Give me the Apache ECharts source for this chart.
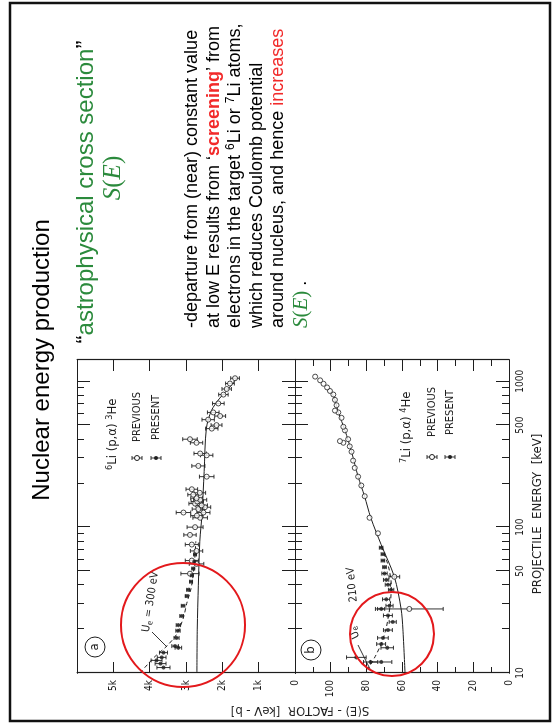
<!DOCTYPE html>
<html>
<head>
<meta charset="utf-8">
<script src="https://cdn.jsdelivr.net/npm/echarts@6/dist/echarts.min.js"></script>
<style>
  html, body { margin: 0; padding: 0; width: 553px; height: 726px; overflow: hidden; background: #fff; }
  /* the slide is drawn upright (726 x 553) and turned a quarter to the left */
  #container { position: absolute; left: 0; top: 0; width: 726px; height: 553px;
    transform-origin: 0 0; transform: translateY(726px) rotate(-90deg); background: #fff; }
</style>
</head>
<body>
<div id="container"></div>
<script>
// ---- data (energy in keV, S in keV b) ----
var energyTicksMajor = [10, 50, 100, 500, 1000];
var energyTicksMinor = [20, 30, 40, 60, 70, 80, 90, 200, 300, 400, 600, 700, 800, 900];
var energyLabels = [10, 50, 100, 500, 1000];

// (a) 6Li(p,alpha)3He
var li6PresentE = [10.9, 11.6, 12.2, 12.8, 13.8, 14.9, 15.3, 17.4, 19.5, 21.3, 24.6, 28.9, 33.7, 37.2, 42.3, 46.8, 52, 58, 65];
var li6PresentS = [3620, 3700, 3810, 3670, 3620, 3210, 3300, 3260, 3220, 3210, 3120, 3080, 2980, 2940, 2860, 2840, 2800, 2770, 2750];
var li6PresentErr = [180, 150, 150, 120, 110, 90, 90, 70, 60, 60, 50, 50, 40, 40, 40, 40, 40, 40, 40];

var li6PreviousE = [48, 56, 59, 68.7, 76, 88.5, 100, 116, 120, 126, 126, 133, 137, 141, 145, 150, 154, 158, 167, 172, 182, 222, 263, 311, 320, 379, 401, 474, 501, 546, 578, 612, 705, 811, 886, 966, 1050];
var li6PreviousS = [2890, 2710, 2840, 2710, 2840, 2890, 2750, 2610, 2700, 2520, 3070, 2660, 2480, 2570, 2750, 2690, 2610, 2710, 2800, 2620, 2840, 2430, 2660, 2430, 2610, 2710, 2890, 2290, 2160, 2390, 2060, 2250, 2110, 1970, 1880, 1790, 1650];
var li6PreviousErr = [250, 200, 180, 170, 180, 170, 220, 200, 170, 180, 200, 170, 160, 160, 170, 170, 180, 160, 150, 160, 160, 200, 180, 170, 170, 170, 200, 170, 150, 170, 150, 160, 160, 130, 130, 120, 120];

var li6FitE = [10, 20, 40, 80, 122, 241, 474, 630, 767, 883, 1048];
var li6FitS = [2700, 2690, 2660, 2620, 2560, 2500, 2440, 2300, 2070, 1840, 1610];
var li6ScreenE = [10, 11.5, 13, 15.3, 18.4, 24, 30, 38, 48, 60, 80];
var li6ScreenS = [4270, 4050, 3850, 3530, 3260, 3070, 2980, 2860, 2800, 2760, 2730];

// (b) 7Li(p,alpha)4He
var li7PresentE = [11.9, 11.9, 12.8, 14.9, 15.8, 17.4, 19.7, 22.4, 24.8, 27.5, 28.9, 32, 37.2, 40.3, 43.5, 48.1, 53.2, 59, 65.3, 72.3];
var li7PresentS = [77.6, 71.7, 85.6, 68.3, 71.7, 70.7, 67.9, 65.2, 67.9, 71.7, 67.0, 68.9, 66.1, 67.9, 68.9, 69.8, 69.8, 70.7, 70.7, 71.7];
var li7PresentErr = [4, 6, 5.5, 3.5, 2.5, 3, 2.5, 2, 2.5, 2, 2, 2, 1.5, 1.5, 1.5, 1.5, 1, 1, 1, 1];

var li7PreviousE = [27.5, 45.7, 90.8, 116, 163, 193, 222, 255, 286, 329, 358, 379, 389, 401, 461, 488, 562, 612, 630, 686, 746, 812, 859, 908, 962, 1016, 1077];
var li7PreviousS = [55.9, 64.3, 73.5, 78.2, 80.9, 82.8, 84.6, 86.5, 87.4, 88.3, 89.3, 92.9, 94.8, 90.2, 92.0, 92.9, 93.9, 95.7, 97.6, 96.7, 97.6, 98.5, 100.4, 102.0, 104.0, 105.9, 108.7];
var li7PreviousErr = [19, 3, 0, 0, 0, 0, 0, 0, 0, 0, 0, 0, 0, 0, 0, 0, 0, 0, 0, 0, 0, 0, 0, 0, 0, 0, 0];

var li7FitE = [10, 20, 27.5, 45.7, 76, 116, 163, 222, 329, 462, 612, 746, 836];
var li7FitS = [58.3, 59.5, 60.5, 64.3, 71.7, 77.5, 81, 84.6, 88.3, 92, 95.7, 97.6, 99.4];
var li7ScreenE = [10.5, 11, 13, 15.8, 20, 25, 30, 40, 50, 60, 75];
var li7ScreenS = [80, 78.5, 75, 71.7, 69, 67.5, 66.5, 66, 67, 68.8, 71.7];
</script>
<script>
var dom = document.getElementById('container');
var myChart = echarts.init(dom, null, {width: 726, height: 553});
var option;

var ink = '#1e1e1e';
var plotFont = "'DejaVu Sans Condensed', 'Liberation Sans Narrow', sans-serif";
var slideFont = "'Liberation Sans', Arial, sans-serif";
var mathFont = "'Liberation Serif', 'DejaVu Serif', serif";
var green = '#2b8a3c';
var red = '#f22a2a';

function pairs(xs, ys) {
  return xs.map(function (x, i) { return [x, ys[i]]; });
}

function xAxesFor(g, withLabels) {
  var base = {
    type: 'log', logBase: 10, gridIndex: g, min: 10, max: 1400,
    axisLine: {show: true, onZero: false, lineStyle: {color: ink, width: 1.2}},
    splitLine: {show: false}
  };
  var tick = function (vals, len) {
    return {show: true, inside: true, length: len, customValues: vals, lineStyle: {color: ink, width: 1}};
  };
  var label = withLabels ? {
    show: true, customValues: energyLabels, fontSize: 10, fontFamily: plotFont, color: ink, margin: 6,
    formatter: function (v) { return String(Math.round(v)); }
  } : {show: false};
  return [
    Object.assign({}, base, {position: 'bottom', axisTick: tick(energyTicksMajor, 13), axisLabel: label}),
    Object.assign({}, base, {position: 'bottom', axisTick: tick(energyTicksMinor, 7), axisLabel: {show: false}}),
    Object.assign({}, base, {position: 'top', axisTick: tick(energyTicksMajor, 13), axisLabel: {show: false}}),
    Object.assign({}, base, {position: 'top', axisTick: tick(energyTicksMinor, 7), axisLabel: {show: false}})
  ];
}

function yAxesFor(g, max, interval, fmt, minor) {
  var base = {
    type: 'value', gridIndex: g, min: 0, max: max, interval: interval,
    splitLine: {show: false},
    axisLine: {show: true, onZero: false, lineStyle: {color: ink, width: 1.2}},
    axisTick: {show: true, inside: true, length: 11, lineStyle: {color: ink}},
    minorTick: {show: minor, splitNumber: 2, length: 6, lineStyle: {color: ink}}
  };
  return [
    Object.assign({}, base, {position: 'left', axisLabel: {show: true, formatter: fmt, fontSize: 10, fontFamily: plotFont, color: ink, margin: 7}}),
    Object.assign({}, base, {position: 'right', axisLabel: {show: false}})
  ];
}

function errorBars(xi, yi, E, S, err) {
  var data = [];
  E.forEach(function (e, i) { if (err[i] > 0) data.push([e, S[i] - err[i], S[i] + err[i]]); });
  return {
    type: 'custom', xAxisIndex: xi, yAxisIndex: yi, data: data, silent: true, z: 2,
    encode: {x: 0, y: [1, 2]},
    renderItem: function (params, api) {
      var lo = api.coord([api.value(0), api.value(1)]);
      var hi = api.coord([api.value(0), api.value(2)]);
      var st = {stroke: ink, lineWidth: 0.9};
      return {type: 'group', children: [
        {type: 'line', shape: {x1: lo[0], y1: lo[1], x2: hi[0], y2: hi[1]}, style: st},
        {type: 'line', shape: {x1: lo[0] - 2, y1: lo[1], x2: lo[0] + 2, y2: lo[1]}, style: st},
        {type: 'line', shape: {x1: hi[0] - 2, y1: hi[1], x2: hi[0] + 2, y2: hi[1]}, style: st}
      ]};
    }
  };
}

function curve(xi, yi, E, S, dashed) {
  return {
    type: 'line', xAxisIndex: xi, yAxisIndex: yi, data: pairs(E, S), smooth: 0.3,
    showSymbol: false, silent: true, z: 1,
    lineStyle: {color: ink, width: 1, type: dashed ? [4, 3] : 'solid'}
  };
}

function points(xi, yi, E, S, open) {
  return {
    type: 'scatter', xAxisIndex: xi, yAxisIndex: yi, data: pairs(E, S), silent: true, z: 3,
    symbol: 'circle', symbolSize: open ? 5 : 4,
    itemStyle: open ? {color: '#fff', borderColor: ink, borderWidth: 1} : {color: ink}
  };
}

// ---- text and marks laid on the upright slide ----
function txt(x, y, text, style, rot) {
  return {type: 'text', x: x, y: y, rotation: rot || 0, silent: true,
    style: Object.assign({text: text, x: 0, y: 0}, style)};
}

function legendMark(x, y, open) {
  return {type: 'group', x: x, y: y, silent: true, children: [
    {type: 'line', shape: {x1: 0, y1: -5, x2: 0, y2: 5}, style: {stroke: ink, lineWidth: 0.9}},
    {type: 'line', shape: {x1: -2, y1: -5, x2: 2, y2: -5}, style: {stroke: ink, lineWidth: 0.9}},
    {type: 'line', shape: {x1: -2, y1: 5, x2: 2, y2: 5}, style: {stroke: ink, lineWidth: 0.9}},
    {type: 'circle', shape: {cx: 0, cy: 0, r: open ? 2.5 : 2}, style: open ? {fill: '#fff', stroke: ink, lineWidth: 1} : {fill: ink}}
  ]};
}

var plotRich = {
  n: {fontSize: 13, fontFamily: plotFont, fill: ink, lineHeight: 16},
  sup: {fontSize: 9, fontFamily: plotFont, fill: ink, lineHeight: 9, verticalAlign: 'top'},
  small: {fontSize: 11, fontFamily: plotFont, fill: ink, lineHeight: 14},
  sub: {fontSize: 8, fontFamily: plotFont, fill: ink, lineHeight: 8, verticalAlign: 'bottom'}
};

var paraRich = {
  n: {fontSize: 18, fontFamily: slideFont, fill: '#000', lineHeight: 21},
  rb: {fontSize: 18, fontFamily: slideFont, fill: red, fontWeight: 'bold', lineHeight: 21},
  r: {fontSize: 18, fontFamily: slideFont, fill: red, lineHeight: 21},
  sup: {fontSize: 12, fontFamily: slideFont, fill: '#000', lineHeight: 12, verticalAlign: 'top'},
  mi: {fontSize: 21, fontFamily: mathFont, fontStyle: 'italic', fill: green, lineHeight: 24},
  mu: {fontSize: 21, fontFamily: mathFont, fill: green, lineHeight: 24}
};

var paraLines = [
  '{n|-departure from (near) constant value}',
  '{n|at low E results from \u2018}{rb|screening}{n|\u2019 from}',
  '{n|electrons in the target }{sup|6}{n|Li or }{sup|7}{n|Li atoms,}',
  '{n|which reduces Coulomb potential}',
  '{n|around nucleus, and hence }{r|increases}',
  '{mi|S}{mu|(}{mi|E}{mu|)}{n| .}'
];

var graphics = [
  {type: 'rect', shape: {x: 5, y: 10, width: 718, height: 540}, silent: true,
   style: {fill: 'none', stroke: '#111', lineWidth: 2.5}},
  txt(366, 30, 'Nuclear energy production', {font: '24px ' + slideFont, fill: '#000', align: 'center', textAlign: 'center', verticalAlign: 'top', textVerticalAlign: 'top'}),
  txt(534, 74, '{q|\u201c}{g|astrophysical cross section}{q|\u201d}', {
    align: 'center', textAlign: 'center', verticalAlign: 'top', textVerticalAlign: 'top',
    rich: {q: {fontSize: 24, fontFamily: slideFont, fill: '#000'}, g: {fontSize: 24, fontFamily: slideFont, fill: green}}
  }),
  txt(548, 113, '{mi|S}{mu|(}{mi|E}{mu|)}', {
    align: 'center', textAlign: 'center', verticalAlign: 'middle', textVerticalAlign: 'middle',
    rich: {mi: {fontSize: 25, fontFamily: mathFont, fontStyle: 'italic', fill: green}, mu: {fontSize: 25, fontFamily: mathFont, fill: green}}
  })
];
paraLines.forEach(function (line, i) {
  graphics.push(txt(398, 182 + i * 21.5, line, {align: 'left', textAlign: 'left', verticalAlign: 'top', textVerticalAlign: 'top', rich: paraRich}));
});

// panel marks
graphics.push(
  {type: 'circle', shape: {cx: 79, cy: 95, r: 10}, silent: true, style: {fill: 'none', stroke: ink, lineWidth: 1}},
  txt(79, 95, 'a', {font: '13px ' + plotFont, fill: ink, align: 'center', textAlign: 'center', verticalAlign: 'middle', textVerticalAlign: 'middle'}),
  {type: 'circle', shape: {cx: 76, cy: 311, r: 10}, silent: true, style: {fill: 'none', stroke: ink, lineWidth: 1}},
  txt(76, 311, 'b', {font: '13px ' + plotFont, fill: ink, align: 'center', textAlign: 'center', verticalAlign: 'middle', textVerticalAlign: 'middle'}),

  txt(256, 113, '{sup|6}{n|Li (p,\u03b1) }{sup|3}{n|He}', {rich: plotRich, align: 'left', textAlign: 'left', verticalAlign: 'middle', textVerticalAlign: 'middle'}),
  legendMark(268, 137, true),
  txt(284, 137, 'PREVIOUS', {font: '11px ' + plotFont, fill: ink, verticalAlign: 'middle', textVerticalAlign: 'middle'}),
  legendMark(268, 156, false),
  txt(286, 156, 'PRESENT', {font: '11px ' + plotFont, fill: ink, verticalAlign: 'middle', textVerticalAlign: 'middle'}),

  txt(263, 407, '{sup|7}{n|Li (p,\u03b1) }{sup|4}{n|He}', {rich: plotRich, align: 'left', textAlign: 'left', verticalAlign: 'middle', textVerticalAlign: 'middle'}),
  legendMark(269, 432, true),
  txt(289, 432, 'PREVIOUS', {font: '11px ' + plotFont, fill: ink, verticalAlign: 'middle', textVerticalAlign: 'middle'}),
  legendMark(269, 450, false),
  txt(291, 450, 'PRESENT', {font: '11px ' + plotFont, fill: ink, verticalAlign: 'middle', textVerticalAlign: 'middle'}),

  // screening annotations
  txt(94, 146, '{small|U}{sub|e}{small| = 300 eV}', {rich: plotRich, verticalAlign: 'middle', textVerticalAlign: 'middle'}, -0.15),
  {type: 'line', shape: {x1: 94, y1: 152, x2: 79, y2: 167}, silent: true, style: {stroke: ink, lineWidth: 0.9}},
  txt(88, 357, '{small|U}{sub|e}', {rich: plotRich, verticalAlign: 'middle', textVerticalAlign: 'middle'}, 0.45),
  txt(124, 354, '210 eV', {font: '11px ' + plotFont, fill: ink, verticalAlign: 'middle', textVerticalAlign: 'middle'}, 0.1),
  {type: 'line', shape: {x1: 81, y1: 358, x2: 57, y2: 370}, silent: true, style: {stroke: ink, lineWidth: 0.9}},

  // axis names
  txt(16, 300, 'S(E) - FACTOR  [keV - b]', {font: '13px ' + plotFont, fill: ink, align: 'center', textAlign: 'center', verticalAlign: 'middle', textVerticalAlign: 'middle'}, Math.PI / 2),
  txt(212, 538, 'PROJECTILE  ENERGY  [keV]', {font: '13px ' + plotFont, fill: ink, align: 'center', textAlign: 'center', verticalAlign: 'middle', textVerticalAlign: 'middle'}),

  // red circles
  {type: 'circle', shape: {cx: 101, cy: 183, r: 62}, silent: true, z: 100, style: {fill: 'none', stroke: '#e3191c', lineWidth: 2}},
  {type: 'circle', shape: {cx: 92, cy: 392, r: 42}, silent: true, z: 100, style: {fill: 'none', stroke: '#e3191c', lineWidth: 2}}
);

option = {
  animation: false,
  backgroundColor: '#fff',
  grid: [
    {left: 53, top: 77, width: 313, height: 218},
    {left: 53, top: 295, width: 313, height: 214}
  ],
  xAxis: xAxesFor(0, false).concat(xAxesFor(1, true)),
  yAxis: yAxesFor(0, 6000, 1000, function (v) { return v === 0 ? '0' : (v >= 6000 ? '' : v / 1000 + 'k'); }, false)
    .concat(yAxesFor(1, 120, 20, function (v) { return v >= 120 ? '' : String(v); }, true)),
  series: [
    curve(0, 0, li6FitE, li6FitS, false),
    curve(0, 0, li6ScreenE, li6ScreenS, true),
    errorBars(0, 0, li6PreviousE, li6PreviousS, li6PreviousErr),
    errorBars(0, 0, li6PresentE, li6PresentS, li6PresentErr),
    points(0, 0, li6PreviousE, li6PreviousS, true),
    points(0, 0, li6PresentE, li6PresentS, false),

    curve(4, 2, li7FitE, li7FitS, false),
    curve(4, 2, li7ScreenE, li7ScreenS, true),
    errorBars(4, 2, li7PreviousE, li7PreviousS, li7PreviousErr),
    errorBars(4, 2, li7PresentE, li7PresentS, li7PresentErr),
    points(4, 2, li7PreviousE, li7PreviousS, true),
    points(4, 2, li7PresentE, li7PresentS, false)
  ],
  graphic: {elements: graphics}
};

if (option && typeof option === 'object') {
  myChart.setOption(option);
}
</script>
</body>
</html>
